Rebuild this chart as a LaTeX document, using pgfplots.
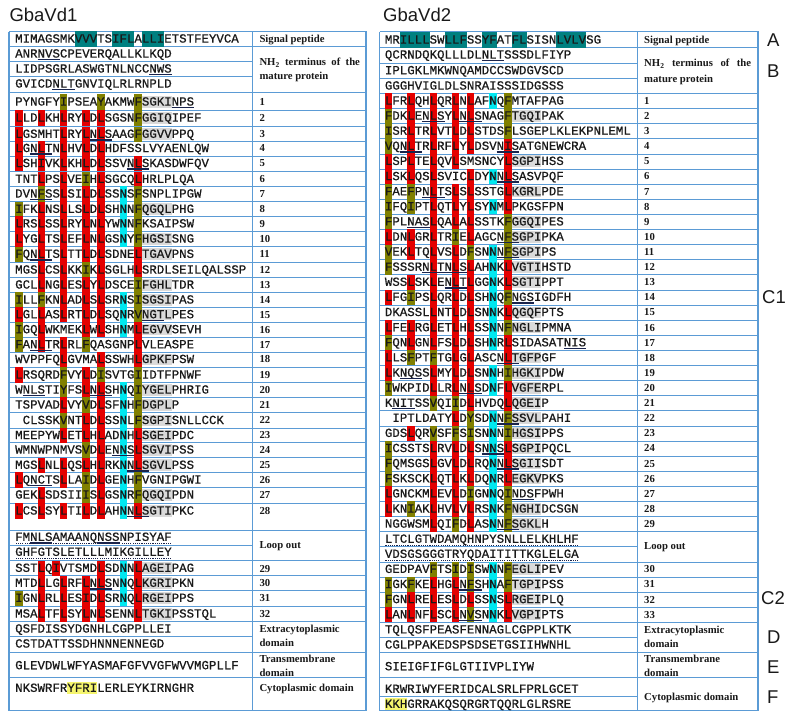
\documentclass[border=0pt]{standalone}
\usepackage{fontspec}
\setmainfont{Liberation Serif}
\newfontfamily\seqfam[FakeBold=0.7]{Liberation Mono}
\newfontfamily\sansfam{Liberation Sans}
\usepackage{pgfplots}
\pgfplotsset{compat=1.18}
\definecolor{hred}{RGB}{228,0,0}
\definecolor{holive}{RGB}{128,128,0}
\definecolor{hcyan}{RGB}{0,232,240}
\definecolor{hteal}{RGB}{0,128,128}
\definecolor{hgray}{RGB}{218,218,218}
\definecolor{hyel}{RGB}{245,245,110}
\definecolor{ulc}{RGB}{25,35,75}
\definecolor{gridc}{RGB}{91,155,213}
\definecolor{txt}{RGB}{25,25,25}
\newcommand{\fstrut}{\rule[-4pt]{0pt}{15.1pt}}
\newcommand{\hbx}[2]{{\setlength{\fboxsep}{0pt}\colorbox{#1}{\fstrut#2}}}
\newcommand{\hR}[1]{\hbx{hred}{#1}}
\newcommand{\hO}[1]{\hbx{holive}{#1}}
\newcommand{\hC}[1]{\hbx{hcyan}{#1}}
\newcommand{\hT}[1]{\hbx{hteal}{#1}}
\newcommand{\hG}[1]{{\setlength{\fboxsep}{0pt}\colorbox{hgray}{\rule[-2pt]{0pt}{11.5pt}#1}}}
\newcommand{\hY}[1]{{\setlength{\fboxsep}{0pt}\colorbox{hyel}{\rule[-2pt]{0pt}{11.5pt}#1}}}
\newcommand{\un}[1]{{\setbox0\hbox{#1}\copy0\llap{{\color{ulc}\rule[-2.7pt]{\wd0}{1.4pt}}}}}
\newcommand{\dt}[1]{{\setbox0\hbox{#1}\copy0\llap{{\color{ulc}\hbox to \wd0{\xleaders\hbox to 2.2pt{\hss\rule[-3pt]{1.1pt}{1.1pt}\hss}\hfill}}}}}
\newcommand{\seqfont}{\seqfam\fontsize{12.42}{15}\selectfont\color{txt}}
\newcommand{\labfont}{\fontsize{10.7}{12}\selectfont\bfseries\color{txt}}
\newcommand{\sL}[2]{\node[anchor=base west,inner sep=0pt,font=\seqfont,yshift=-3.55pt] at (axis cs:15,#1) {#2};}
\newcommand{\sR}[2]{\node[anchor=base west,inner sep=0pt,font=\seqfont,yshift=-3.55pt] at (axis cs:384.7,#1) {#2};}
\newcommand{\nL}[2]{\node[anchor=base west,inner sep=0pt,font=\labfont,yshift=-3.4pt] at (axis cs:259.3,#1) {#2};}
\newcommand{\nR}[2]{\node[anchor=base west,inner sep=0pt,font=\labfont,yshift=-3.4pt] at (axis cs:644,#1) {#2};}
\newcommand{\bigletter}[3]{\node[anchor=west,inner sep=0pt,font=\sansfam\fontsize{18.5}{20}\selectfont\color{txt}] at (axis cs:#1,#2) {#3};}
\tikzset{gl/.style={color=gridc,line width=0.7pt},gb/.style={color=gridc,line width=1.1pt}}
\begin{document}
\begin{tikzpicture}
\begin{axis}[width=787pt,height=719pt,scale only axis,xmin=0,xmax=787,ymin=0,ymax=719,
  y dir=reverse,hide axis,clip=false]
\addplot[draw=none] coordinates {(0,0) (787,719)};
% ---------- left panel grid ----------
\pgfplotsinvokeforeach{46.7,92.7,110,126,141.3,156,171.3,186.5,201.5,216.5,231.5,246.7,262,277.5,292.5,307.3,322.2,337.2,352,367.2,382.5,397.5,412.7,428,442.7,457.6,472.6,487.5,503,530,560,575.6,590.8,606,621.5,652,677}{
  \addplot[gl] coordinates {(9,#1) (366,#1)};}
\pgfplotsinvokeforeach{61.7,76.7,545,636.5}{
  \addplot[gl] coordinates {(9,#1) (252.5,#1)};}
\addplot[gl] coordinates {(252.5,31.7) (252.5,710.5)};
\addplot[gb] coordinates {(9,31.7) (366,31.7) (366,710.5) (9,710.5) (9,31.7)};
% ---------- right panel grid ----------
\pgfplotsinvokeforeach{47.5,93.5,108.56,123.67,138.78,153.89,169.00,184.11,199.22,214.33,229.44,244.55,259.66,274.77,289.88,304.99,320.10,335.21,350.32,365.43,380.54,395.65,410.76,425.87,440.98,456.09,471.20,486.31,501.42,516.53,531.64,561.86,576.97,592.08,607.19,622.30,652.5,677.3}{
  \addplot[gl] coordinates {(379.7,#1) (758,#1)};}
\pgfplotsinvokeforeach{63,78,546.75,637.4,696.7}{
  \addplot[gl] coordinates {(379.7,#1) (637.3,#1)};}
\addplot[gl] coordinates {(637.3,31.7) (637.3,710.5)};
\addplot[gb] coordinates {(379.7,31.7) (758,31.7) (758,710.5) (379.7,710.5) (379.7,31.7)};
% ---------- titles and letters ----------
\node[anchor=base west,inner sep=0pt,font=\sansfam\fontsize{18.5}{20}\selectfont\color{txt}] at (axis cs:9.3,21.7) {GbaVd1};
\node[anchor=base west,inner sep=0pt,font=\sansfam\fontsize{18.5}{20}\selectfont\color{txt}] at (axis cs:383,21.7) {GbaVd2};
\bigletter{767}{40}{A}
\bigletter{767}{70.7}{B}
\bigletter{762}{297.3}{C1}
\bigletter{761}{598}{C2}
\bigletter{767}{636.7}{D}
\bigletter{767}{666.7}{E}
\bigletter{767}{696.7}{F}
% ---------- left sequences ----------
\sL{39}{MIMAGSMK\hT{VVV}TS\hT{IFL}A\hT{LLI}ETSTFEYVCA}
\sL{54}{ANR\un{NVS}CPEVERQALLKLKQD}
\sL{69}{LIDPSGRLASWGTNLNCC\un{NWS}}
\sL{84}{GVICD\un{NLT}GNVIQLRLRNPLD}
\sL{102}{PYNGFY\hO{I}PSEA\hO{Y}AKMW\hO{F}\hG{SGKI}\un{NPS}}
\sL{118}{\hR{L}LD\hR{L}KH\hR{L}RY\hR{L}D\hR{L}SGSN\hO{F}\hG{GGIQ}IPEF}
\sL{134.3}{\hR{L}GSMHT\hR{L}RY\hR{L}\un{N\hR{L}S}AAG\hO{F}\hG{GGVV}PPQ}
\sL{148.5}{\hR{L}G\un{N\hR{L}T}N\hR{L}HV\hR{L}D\hR{L}HDFSSLVYAENLQW}
\sL{163.5}{\hR{L}SH\hR{I}VK\hR{L}KH\hR{L}D\hR{L}SSV\un{N\hR{L}S}KASDWFQV}
\sL{179.3}{TNT\hR{L}PS\hR{L}VE\hO{I}H\hR{L}SGCQ\hR{L}HRLPLQA}
\sL{194}{DV\un{N\hO{F}S}S\hR{L}SI\hR{L}D\hR{L}SS\hC{N}S\hO{F}SNPLIPGW}
\sL{209.3}{\hO{I}FK\hR{L}NS\hR{L}LS\hR{L}D\hR{L}SH\hC{N}N\hO{F}\hG{QGQL}PHG}
\sL{223.9}{\hR{L}RS\hR{L}SS\hR{L}RY\hR{L}N\hR{L}YW\hC{N}N\hO{F}KSAIPSW}
\sL{239}{\hR{L}YG\hR{L}TS\hR{L}EF\hR{L}N\hR{L}GS\hC{N}Y\hO{F}\hG{HGSI}SNG}
\sL{254.3}{\hO{F}Q\un{N\hR{L}T}S\hR{L}TT\hR{L}D\hR{L}SDNE\hR{L}\hG{TGAV}PNS}
\sL{270}{MGS\hR{L}CS\hR{L}KK\hO{I}K\hR{L}SGLH\hR{L}SRDLSEILQALSSP}
\sL{285}{GCL\hR{L}NG\hR{L}ES\hR{L}Y\hR{L}DSCE\hO{I}\hG{FGHL}TDR}
\sL{300}{\hO{I}LL\hO{F}KN\hR{L}AD\hR{L}S\hR{L}SR\hC{N}S\hO{I}\hG{SGSI}PAS}
\sL{314.7}{\hR{L}GL\hR{L}AS\hR{L}RT\hR{L}D\hR{L}SQ\hC{N}R\hO{V}\un{\hG{NGT}}\hG{L}PES}
\sL{329.7}{\hO{I}GQ\hR{L}WKMEK\hR{L}W\hR{L}SH\hC{N}M\hR{L}\hG{EGVV}SEVH}
\sL{344.7}{\hO{F}A\un{N\hR{L}T}R\hR{L}RL\hO{F}QASGNP\hR{L}VLEASPE}
\sL{359.5}{WVPPFQ\hR{L}GVMA\hR{L}SSWH\hR{L}\hG{GPKF}PSW}
\sL{375}{\hR{L}RSQRD\hO{F}VY\hR{L}D\hO{I}SVTG\hO{I}IDTFPNWF}
\sL{390}{W\un{NLS}TI\hO{Y}FS\hR{L}\un{N\hR{L}S}H\hC{N}Q\hO{I}\hG{YGEL}PHRIG}
\sL{405}{TSPVAD\hR{L}VY\hO{V}D\hR{L}SF\hC{N}H\hO{F}\hG{DGPL}P}
\sL{420.5}{\hphantom{C}CLSSK\hO{V}NT\hR{L}D\hR{L}SS\hC{N}L\hO{F}\hG{SGPI}SNLLCCK}
\sL{435.5}{MEEPYW\hR{L}ET\hR{L}H\hR{L}AD\hC{N}H\hR{L}\hG{SGEI}PDC}
\sL{450}{WMNWPNMVS\hO{V}D\hR{L}E\un{N\hC{N}S}\hR{L}\hG{SGVI}PSS}
\sL{465.3}{MGS\hR{L}NL\hR{L}QS\hR{L}H\hR{L}RK\hC{N}\un{N\hR{L}\hG{S}}\hG{GVL}PSS}
\sL{480}{\hR{L}Q\un{NCT}S\hR{L}LA\hO{I}D\hR{L}GE\hC{N}H\hO{F}VGNIPGWI}
\sL{495}{GEK\hR{L}SDSII\hO{I}S\hR{L}GS\hC{N}R\hO{F}\hG{QGQI}PDN}
\sL{511}{\hR{L}CS\hR{L}SY\hR{L}TI\hR{L}D\hR{L}AH\hC{N}\un{N\hR{L}\hG{S}}\hG{GTI}PKC}
\sL{537.3}{\dt{FM\un{NLS}AMAANQ\un{NSS}NPISYAF}}
\sL{552.3}{\dt{GHFGTSLETLLLMIKGILLEY}}
\sL{568.3}{SST\hR{L}Q\hR{I}VTSMD\hR{L}SD\hC{N}N\hR{L}\hG{AGEI}PAG}
\sL{583.3}{MTD\hR{L}LG\hR{L}RF\hR{L}\un{N\hR{L}S}N\hC{N}Q\hR{L}\hG{KGRI}PKN}
\sL{598.3}{\hO{I}GN\hR{L}RL\hR{L}ES\hR{I}D\hR{L}SR\hC{N}Q\hR{L}\hG{RGEI}PPS}
\sL{614}{MSA\hR{L}TF\hR{L}SY\hR{L}N\hR{L}SENN\hR{L}\hG{TGKI}PSSTQL}
\sL{629}{QSFDISSYDGNHLCGPPLLEI}
\sL{644}{CSTDATTSSDHNNNENNEGD}
\sL{665.7}{GLEVDWLWFYASMAFGFVVGFWVVMGPLLF}
\sL{688.3}{NKSWRFR\hY{YFRI}LERLEYKIRNGHR}
% ---------- left labels ----------
\nL{39}{Signal peptide}
\nL{62.3}{\hbox to 100.5pt{NH\textsubscript{2}\hfill terminus\hfill of\hfill the}}
\nL{76}{mature protein}
\nL{102}{1}\nL{118}{2}\nL{134.3}{3}\nL{148.5}{4}\nL{163.5}{5}\nL{179.3}{6}\nL{194}{7}
\nL{209.3}{8}\nL{223.9}{9}\nL{239}{10}\nL{254.3}{11}\nL{270}{12}\nL{285}{13}\nL{300}{14}
\nL{314.7}{15}\nL{329.7}{16}\nL{344.7}{17}\nL{359.5}{18}\nL{375}{19}\nL{390}{20}\nL{405}{21}
\nL{420.5}{22}\nL{435.5}{23}\nL{450}{24}\nL{465.3}{25}\nL{480}{26}\nL{495}{27}\nL{511}{28}
\nL{545}{Loop out}
\nL{569.3}{29}\nL{583.3}{30}\nL{598.3}{31}\nL{614}{32}
\nL{629}{Extracytoplasmic}
\nL{643.3}{domain}
\nL{659.3}{Transmembrane}
\nL{672.7}{domain}
\nL{688.3}{Cytoplasmic domain}
% ---------- right sequences ----------
\sR{40}{MR\hT{ILLL}SW\hT{LLF}SS\hT{YF}AT\hT{FL}SISN\hT{LVLV}SG}
\sR{55}{QCRNDQKQLLLDL\un{NLT}SSSDLFIYP}
\sR{70.7}{IPLGKLMKWNQAMDCCSWDGVSCD}
\sR{86}{GGGHVIGLDLSNRAISSSIDGSSS}
\sR{101.0}{\hR{L}FR\hR{L}QH\hR{L}QR\hR{L}N\hR{L}AF\hC{N}Q\hO{F}MTAFPAG}
\sR{116.1}{\hO{F}DK\hR{L}E\un{N\hR{L}S}Y\hR{L}\un{N\hR{L}S}NAG\hO{F}\hG{TGQI}PAK}
\sR{131.2}{\hO{I}SR\hR{L}TR\hR{L}VT\hR{L}D\hR{L}STDS\hO{F}LSGEPLKLEKPNLEML}
\sR{146.3}{\hO{V}Q\un{N\hR{L}T}R\hR{L}RF\hR{L}Y\hR{L}DSV\un{N\hR{I}S}ATGNEWCRA}
\sR{161.4}{\hR{L}SP\hR{L}TE\hR{L}QV\hR{L}SMSNCY\hR{L}\hG{SGPI}HSS}
\sR{176.6}{\hR{L}SK\hR{L}QS\hR{L}SVIC\hR{L}DY\hC{N}\un{N\hR{L}S}ASVPQF}
\sR{191.7}{\hO{F}AE\hO{F}P\un{N\hR{L}T}S\hR{L}S\hR{L}SSTG\hR{L}\hG{KGRL}PDE}
\sR{206.8}{\hO{I}FQ\hO{I}PT\hR{L}QT\hR{L}Y\hR{L}SY\hC{N}M\hR{L}PKGSFPN}
\sR{221.9}{\hO{F}PL\un{NAS}\hR{L}QA\hR{L}A\hR{L}SSTK\hO{F}\hG{GGQI}PES}
\sR{237.0}{\hR{L}DN\hR{L}GR\hR{L}TR\hO{I}E\hR{L}AGC\un{N\hO{F}\hG{S}}\hG{GPI}PKA}
\sR{252.1}{\hO{V}EK\hR{L}TQ\hR{L}VS\hR{L}D\hO{F}SN\hC{N}\un{N\hO{F}\hG{S}}\hG{GPI}PS}
\sR{267.2}{\hO{F}SSSR\un{N\hR{L}T}\un{N\hR{L}S}\hR{L}AH\hC{N}K\hR{L}\hG{VGTI}HSTD}
\sR{282.3}{WSS\hR{L}SK\hR{L}E\un{N\hR{L}T}\hR{L}GG\hC{N}K\hR{L}\hG{SGTI}PPT}
\sR{297.4}{\hR{L}FG\hO{I}PS\hR{L}QR\hR{L}D\hR{L}SH\hC{N}Q\hO{F}\un{NGS}IGDFH}
\sR{312.5}{DKASSL\hR{L}NT\hR{L}D\hR{L}SN\hC{N}K\hR{L}\hG{QGQF}PTS}
\sR{327.7}{\hR{L}FE\hR{L}RG\hR{L}ET\hR{L}H\hR{L}SS\hC{N}N\hO{F}\hG{NGLI}PMNA}
\sR{342.8}{\hO{F}QN\hR{L}GN\hR{L}FS\hR{L}D\hR{L}SH\hC{N}R\hR{L}SIDASAT\un{NIS}}
\sR{357.9}{\hR{L}LS\hO{F}PT\hO{F}TG\hR{L}G\hR{L}ASC\un{N\hR{L}\hG{T}}\hG{GFP}GF}
\sR{373.0}{\hR{L}K\un{NQS}S\hR{L}MY\hR{L}D\hR{L}SN\hC{N}H\hO{I}\hG{HGKI}PDW}
\sR{388.1}{\hO{I}WKPID\hR{L}LR\hR{L}\un{N\hR{L}S}D\hC{N}F\hR{L}\hG{VGFE}RPL}
\sR{403.2}{K\un{NIT}SS\hO{V}QI\hO{I}D\hR{L}HVDQ\hR{L}\hG{QGEI}P}
\sR{418.3}{\hphantom{I}IPTLDATY\hR{L}D\hO{Y}SD\hC{N}\un{N\hO{F}\hG{S}}\hG{SVL}PAHI}
\sR{433.4}{GDS\hR{L}QR\hO{V}SF\hO{F}S\hO{I}SN\hC{N}N\hO{I}\hG{HGSI}PPS}
\sR{448.5}{\hO{I}CSSTS\hR{L}RV\hR{L}D\hR{L}S\un{N\hC{N}S}\hR{L}\hG{SGPI}PQCL}
\sR{463.6}{\hO{F}QMSGS\hR{L}GV\hR{L}D\hR{L}RQ\hC{N}\un{N\hR{L}\hG{S}}\hG{GII}SDT}
\sR{478.8}{\hO{F}SKSCK\hR{L}QT\hR{L}K\hR{L}DQ\hC{N}R\hR{L}\hG{EGKV}PKS}
\sR{493.9}{\hR{L}GNCKM\hR{L}EV\hR{L}D\hO{I}GN\hC{N}Q\hO{I}\un{NDS}FPWH}
\sR{509.0}{\hR{L}KN\hO{I}AK\hR{L}HV\hR{L}V\hR{L}RS\hC{N}K\hO{F}\hG{NGHI}DCSGN}
\sR{524.1}{NGGWSM\hR{L}QI\hO{F}D\hR{L}AS\hC{N}\un{N\hO{F}\hG{S}}\hG{GKL}H}
\sR{539.2}{\dt{LTCLGTWDAMQHNPYSNLLELKHLHF}}
\sR{554.3}{\dt{VDSGSGGGTRYQDAITITTKGLELGA}}
\sR{569.4}{GEDPAV\hO{F}TS\hO{I}D\hO{I}SW\hC{N}N\hO{F}\hG{EGLI}PEV}
\sR{584.5}{\hO{I}GK\hO{F}KE\hR{L}HG\hR{L}\un{N\hO{F}S}H\hC{N}A\hO{F}\hG{TGPI}PSS}
\sR{599.6}{\hO{F}GN\hR{L}RE\hR{L}ES\hR{L}D\hR{L}SS\hC{N}S\hR{L}\hG{RGEI}PLQ}
\sR{614.7}{\hR{L}AN\hR{L}NF\hR{L}SC\hR{L}\un{N\hO{V}S}N\hC{N}K\hR{L}\hG{VGPI}PTS}
\sR{629.9}{TQLQSFPEASFENNAGLCGPPLKTK}
\sR{645.0}{CGLPPAKEDSPSDSETGSIIHWNHL}
\sR{666.7}{SIEIGFIFGLGTIIVPLIYW}
\sR{689.3}{KRWRIWYFERIDCALSRLFPRLGCET}
\sR{704.3}{\hY{KKH}GRRAKQSQRGRTQQRLGLRSRE}
% ---------- right labels ----------
\nR{40}{Signal peptide}
\nR{63.3}{\hbox to 107pt{NH\textsubscript{2}\hfill terminus\hfill of\hfill the}}
\nR{79}{mature protein}
\nR{101.0}{1}\nR{116.1}{2}\nR{131.2}{3}\nR{146.3}{4}\nR{161.4}{5}\nR{176.6}{6}\nR{191.7}{7}
\nR{206.8}{8}\nR{221.9}{9}\nR{237.0}{10}\nR{252.1}{11}\nR{267.2}{12}\nR{282.3}{13}\nR{297.4}{14}
\nR{312.5}{15}\nR{327.7}{16}\nR{342.8}{17}\nR{357.9}{18}\nR{373.0}{19}\nR{388.1}{20}\nR{403.2}{21}
\nR{418.3}{22}\nR{433.4}{23}\nR{448.5}{24}\nR{463.6}{25}\nR{478.8}{26}\nR{493.9}{27}\nR{509.0}{28}
\nR{524.1}{29}
\nR{546}{Loop out}
\nR{569.4}{30}\nR{584.5}{31}\nR{599.6}{32}\nR{614.7}{33}
\nR{630}{Extracytoplasmic}
\nR{644.3}{domain}
\nR{659.3}{Transmembrane}
\nR{673.3}{domain}
\nR{696.7}{Cytoplasmic domain}
\end{axis}
\end{tikzpicture}
\end{document}
